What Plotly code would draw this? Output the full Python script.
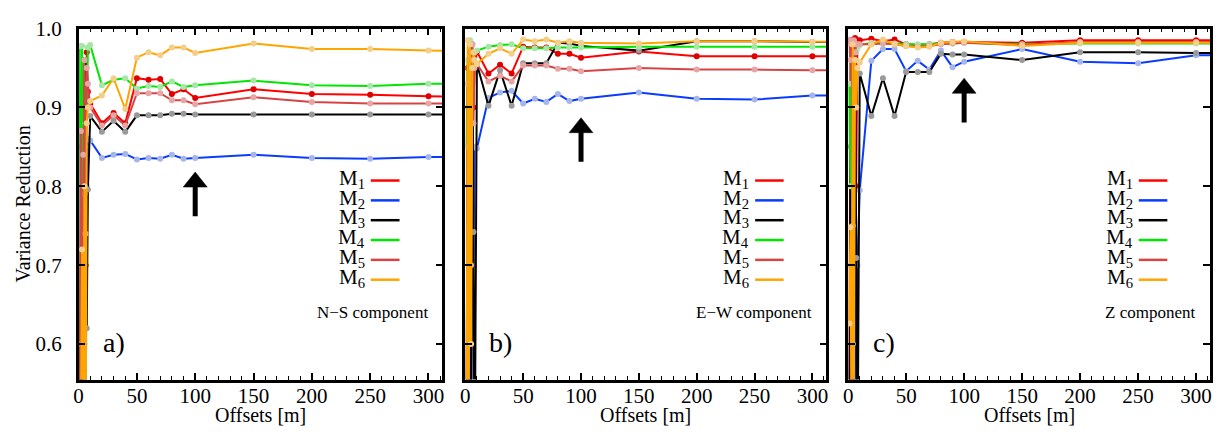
import plotly.graph_objects as go

offsets = [1, 2, 3, 4, 5, 6, 7, 8, 10, 20, 30, 40, 50, 60, 70, 80, 90, 100, 150, 200, 250, 300, 350]

# N-S component
ns_m1 = [0.40, 0.85, 0.50, 0.74, 0.96, 0.70, 0.97, 0.92, 0.905, 0.880, 0.893, 0.880, 0.937, 0.935, 0.936, 0.917, 0.923, 0.912, 0.923, 0.917, 0.916, 0.914, 0.913]
ns_m2 = [0.30, 0.78, 0.50, 0.73, 0.85, 0.45, 0.80, 0.86, 0.858, 0.836, 0.840, 0.841, 0.834, 0.836, 0.835, 0.840, 0.835, 0.836, 0.840, 0.836, 0.835, 0.837, 0.837]
ns_m3 = [0.35, 0.70, 0.40, 0.80, 0.60, 0.96, 0.62, 0.796, 0.889, 0.869, 0.883, 0.869, 0.890, 0.890, 0.890, 0.892, 0.892, 0.891, 0.891, 0.891, 0.891, 0.891, 0.891]
ns_m4 = [0.978, 0.60, 0.978, 0.45, 0.79, 0.88, 0.90, 0.976, 0.979, 0.928, 0.935, 0.937, 0.924, 0.927, 0.926, 0.933, 0.926, 0.928, 0.934, 0.928, 0.927, 0.930, 0.930]
ns_m5 = [0.40, 0.87, 0.55, 0.84, 0.96, 0.74, 0.95, 0.93, 0.900, 0.877, 0.890, 0.877, 0.918, 0.918, 0.918, 0.909, 0.909, 0.904, 0.913, 0.907, 0.905, 0.905, 0.905]
ns_m6 = [0.30, 0.50, 0.72, 0.45, 0.80, 0.40, 0.88, 0.90, 0.908, 0.915, 0.937, 0.898, 0.963, 0.970, 0.966, 0.976, 0.976, 0.969, 0.981, 0.974, 0.974, 0.972, 0.971]

# E-W component
ew_m1 = [0.45, 0.95, 0.70, 0.98, 0.60, 0.97, 0.90, 0.95, 0.971, 0.943, 0.954, 0.943, 0.977, 0.976, 0.976, 0.968, 0.968, 0.963, 0.971, 0.965, 0.965, 0.965, 0.965]
ew_m2 = [0.40, 0.80, 0.50, 0.92, 0.45, 0.96, 0.70, 0.85, 0.848, 0.912, 0.919, 0.921, 0.905, 0.911, 0.907, 0.917, 0.908, 0.911, 0.919, 0.911, 0.910, 0.915, 0.915]
ew_m3 = [0.50, 0.90, 0.45, 0.97, 0.40, 0.98, 0.742, 0.40, 0.955, 0.902, 0.947, 0.902, 0.956, 0.956, 0.956, 0.982, 0.981, 0.978, 0.972, 0.984, 0.984, 0.983, 0.983]
ew_m4 = [0.85, 0.96, 0.70, 0.985, 0.88, 0.97, 0.95, 0.97, 0.972, 0.977, 0.979, 0.980, 0.975, 0.975, 0.975, 0.976, 0.976, 0.976, 0.977, 0.977, 0.977, 0.977, 0.977]
ew_m5 = [0.45, 0.93, 0.60, 0.96, 0.70, 0.98, 0.88, 0.95, 0.955, 0.933, 0.940, 0.933, 0.953, 0.953, 0.953, 0.949, 0.949, 0.946, 0.950, 0.948, 0.948, 0.947, 0.947]
ew_m6 = [0.40, 0.985, 0.50, 0.98, 0.60, 0.95, 0.97, 0.96, 0.955, 0.968, 0.975, 0.968, 0.986, 0.984, 0.986, 0.982, 0.984, 0.982, 0.981, 0.984, 0.984, 0.983, 0.983]

# Z component
z_m1 = [0.50, 0.985, 0.60, 0.98, 0.55, 0.988, 0.80, 0.985, 0.985, 0.987, 0.984, 0.986, 0.980, 0.979, 0.980, 0.982, 0.983, 0.983, 0.982, 0.985, 0.985, 0.985, 0.985]
z_m2 = [0.45, 0.70, 0.40, 0.90, 0.50, 0.96, 0.45, 0.70, 0.795, 0.959, 0.974, 0.974, 0.946, 0.959, 0.948, 0.972, 0.951, 0.958, 0.974, 0.958, 0.956, 0.966, 0.966]
z_m3 = [0.40, 0.85, 0.40, 0.97, 0.45, 0.96, 0.709, 0.40, 0.943, 0.889, 0.937, 0.889, 0.945, 0.945, 0.945, 0.968, 0.967, 0.967, 0.960, 0.970, 0.970, 0.969, 0.969]
z_m4 = [0.93, 0.80, 0.97, 0.60, 0.96, 0.975, 0.97, 0.975, 0.979, 0.982, 0.981, 0.981, 0.980, 0.980, 0.980, 0.981, 0.981, 0.982, 0.980, 0.981, 0.981, 0.981, 0.981]
z_m5 = [0.985, 0.96, 0.98, 0.75, 0.985, 0.97, 0.98, 0.98, 0.980, 0.980, 0.981, 0.980, 0.978, 0.977, 0.978, 0.980, 0.981, 0.982, 0.979, 0.983, 0.983, 0.983, 0.983]
z_m6 = [0.626, 0.748, 0.45, 0.98, 0.55, 0.96, 0.90, 0.95, 0.957, 0.980, 0.986, 0.980, 0.978, 0.976, 0.977, 0.982, 0.983, 0.984, 0.978, 0.982, 0.982, 0.982, 0.982]

series_names = ["M<sub>1</sub>", "M<sub>2</sub>", "M<sub>3</sub>", "M<sub>4</sub>", "M<sub>5</sub>", "M<sub>6</sub>"]
panel_labels = ["a)", "b)", "c)"]
component_labels = ["N\u2212S component", "E\u2212W component", "Z component"]
x_ticks = [0, 50, 100, 150, 200, 250, 300]
y_ticks = [0.6, 0.7, 0.8, 0.9, 1.0]
arrow_x = 100
arrow_tips = [0.818, 0.887, 0.937]
arrow_tails = [0.762, 0.831, 0.881]

panels = [
    [ns_m1, ns_m2, ns_m3, ns_m4, ns_m5, ns_m6],
    [ew_m1, ew_m2, ew_m3, ew_m4, ew_m5, ew_m6],
    [z_m1, z_m2, z_m3, z_m4, z_m5, z_m6],
]

line_colors = ["#ff0000", "#0a3cff", "#000000", "#00e600", "#d64545", "#ffa500"]
marker_colors = ["#e00000", "#a6b6ea", "#9a9a9a", "#a6e6a6", "#e6a6a6", "#f4cf8c"]
draw_order = [0, 1, 2, 3, 4, 5]

FONT = "Liberation Serif, Times New Roman, serif"
W, H = 1220, 435
x_domains = [(74 / W, 440 / W), (463 / W, 826 / W), (848 / W, 1212 / W)]
y_domain = (1 - 378 / H, 1 - 17 / H)
x_range = [0, 312]
y_range = [0.555, 1.0]

fig = go.Figure()
shapes = []
annotations = []

for p, data in enumerate(panels):
    xa = "x" if p == 0 else f"x{p+1}"
    ya = "y" if p == 0 else f"y{p+1}"
    for i in draw_order:
        fig.add_trace(go.Scatter(
            x=offsets, y=data[i], mode="lines+markers", xaxis=xa, yaxis=ya,
            line=dict(color=line_colors[i], width=2),
            marker=dict(color=marker_colors[i], size=6, line=dict(width=0)),
            showlegend=False, hoverinfo="skip",
        ))
    # legend drawn as text + line (label left, line sample right)
    for k in range(6):
        yy = 0.572 - k * 0.0565
        annotations.append(dict(
            xref=f"{xa} domain", yref=f"{ya} domain", x=0.79, y=yy,
            text=series_names[k], showarrow=False, xanchor="right", yanchor="middle",
            borderpad=0,
            font=dict(family=FONT, size=21, color="black"),
        ))
        shapes.append(dict(
            type="line", xref=f"{xa} domain", yref=f"{ya} domain",
            x0=0.803, x1=0.882, y0=yy - 0.005, y1=yy - 0.005,
            line=dict(color=line_colors[k], width=2.5),
        ))
    annotations.append(dict(
        xref=f"{xa} domain", yref=f"{ya} domain", x=0.965, y=0.19,
        text=component_labels[p], showarrow=False, xanchor="right", yanchor="middle",
        font=dict(family=FONT, size=17, color="black"),
    ))
    annotations.append(dict(
        xref=f"{xa} domain", yref=f"{ya} domain", x=0.098, y=0.105,
        text=panel_labels[p], showarrow=False, xanchor="center", yanchor="middle",
        font=dict(family=FONT, size=28, color="black"),
    ))
    annotations.append(dict(
        xref=f"{xa} domain", yref="paper", x=0.5, y=(H - 414) / H,
        text="Offsets [m]", showarrow=False, xanchor="center", yanchor="middle",
        font=dict(family=FONT, size=20, color="black"),
    ))
    # arrow
    tip = arrow_tips[p]
    tail = arrow_tails[p]
    head_base = tip - 0.019
    shapes.append(dict(type="line", xref=xa, yref=ya, x0=arrow_x, x1=arrow_x,
                       y0=tail, y1=head_base + 0.002, line=dict(color="black", width=5)))
    shapes.append(dict(type="path", xref=xa, yref=ya,
                       path=f"M {arrow_x-10.3},{head_base} L {arrow_x+10.3},{head_base} L {arrow_x},{tip} Z",
                       fillcolor="black", line=dict(color="black", width=0.5)))

annotations.append(dict(
    xref="paper", yref="paper", x=18 / W, y=(H - 197) / H, text="Variance Reduction",
    textangle=-90, showarrow=False, xanchor="center", yanchor="middle",
    font=dict(family=FONT, size=20, color="black"),
))

layout = dict(
    width=W, height=H, margin=dict(l=0, r=0, t=0, b=0),
    plot_bgcolor="white", paper_bgcolor="white",
    shapes=shapes, annotations=annotations,
    font=dict(family=FONT, size=20, color="black"),
)
for p in range(3):
    xk = "xaxis" if p == 0 else f"xaxis{p+1}"
    yk = "yaxis" if p == 0 else f"yaxis{p+1}"
    ya = "y" if p == 0 else f"y{p+1}"
    xa = "x" if p == 0 else f"x{p+1}"
    layout[xk] = dict(
        domain=list(x_domains[p]), anchor=ya, range=x_range,
        tickvals=x_ticks, ticks="inside", ticklen=7, tickwidth=1.5, tickcolor="black",
        minor=dict(dtick=10, ticks="inside", ticklen=4, tickwidth=1, tickcolor="black", showgrid=False),
        showline=True, linecolor="black", linewidth=2.5, mirror="ticks",
        showgrid=False, zeroline=False, ticklabelstandoff=-5,
        tickfont=dict(family=FONT, size=21, color="black"),
    )
    layout[yk] = dict(
        domain=list(y_domain), anchor=xa, range=y_range,
        tickvals=y_ticks, ticktext=[f"{v:.1f}" for v in y_ticks],
        ticks="inside", ticklen=7, tickwidth=1.5, tickcolor="black",
        showline=True, linecolor="black", linewidth=2.5, mirror="ticks",
        showgrid=False, zeroline=False, showticklabels=(p == 0), ticklabelstandoff=10,
        tickfont=dict(family=FONT, size=21, color="black"),
    )

fig.update_layout(**layout)
fig.write_html("out.html", config={"displayModeBar": False},
               post_script="document.body.style.margin='0';document.body.style.padding='0';")
